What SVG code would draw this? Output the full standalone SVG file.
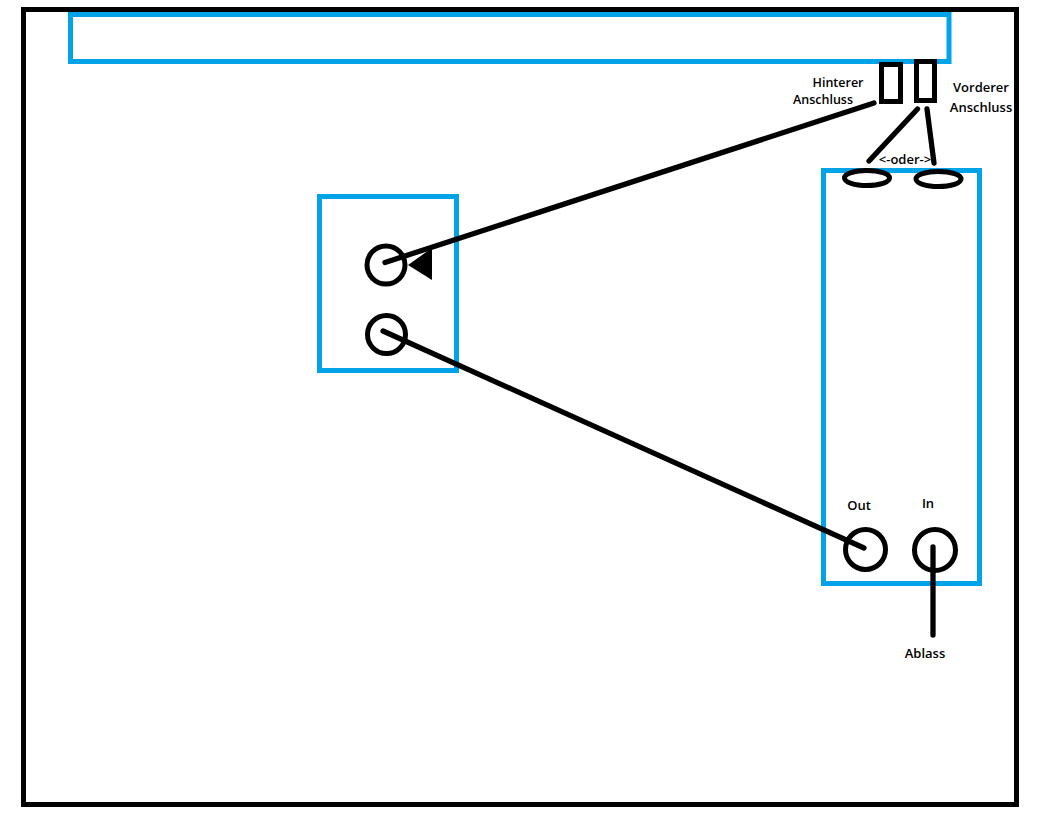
<svg xmlns="http://www.w3.org/2000/svg" width="1055" height="820" viewBox="0 0 1055 820">
<style>
.blue{fill:none;stroke:#00a2e8;stroke-width:5}
.blk{fill:none;stroke:#000;stroke-width:5}
.ln{fill:none;stroke:#000;stroke-width:5.300;stroke-linecap:round}
text{font-family:"Open Sans","Noto Sans","Liberation Sans",sans-serif;font-size:13px;font-weight:600;fill:#000}
.tight{font-size:12.500px}
</style>
<rect width="1055" height="820" fill="#fff"/>
<g id="frame"><rect class="blk" x="23.500" y="9.500" width="993" height="795"/></g>
<g id="top-bar"><rect class="blue" x="70.500" y="14.500" width="878.500" height="47"/></g>
<g id="rear-port"><rect class="blk" x="881.500" y="64.500" width="19" height="37"/><text class="tight" x="838" y="87" text-anchor="middle">Hinterer</text><text class="tight" x="823" y="104" text-anchor="middle">Anschluss</text></g>
<g id="front-port"><rect class="blk" x="916.500" y="61.500" width="18" height="39"/><text x="981" y="92" text-anchor="middle">Vorderer</text><text x="981" y="112" text-anchor="middle">Anschluss</text></g>
<g id="left-box"><rect class="blue" x="319.500" y="196.500" width="137" height="174"/><circle class="blk" cx="386" cy="265" r="19"/><circle class="blk" cx="386.500" cy="334.500" r="19"/><polygon points="408,265 432,248 432,280" fill="#000"/></g>
<g id="right-box"><rect class="blue" x="823.500" y="170.500" width="156" height="413"/><ellipse class="blk" cx="867" cy="178" rx="22.500" ry="7.500"/><ellipse class="blk" cx="938.500" cy="179" rx="22.500" ry="7.500"/><circle class="blk" cx="865.500" cy="549.500" r="20"/><circle class="blk" cx="935" cy="550" r="20.500"/><text x="905" y="164" text-anchor="middle">&lt;-oder-&gt;</text><text x="859" y="510" text-anchor="middle">Out</text><text x="928" y="508" text-anchor="middle">In</text></g>
<g id="drain-label"><text x="925" y="658" text-anchor="middle">Ablass</text></g>
<g id="connectors">
<path class="ln" d="M385 262.500L874 103"/>
<path class="ln" d="M917.500 109L869 161"/>
<path class="ln" d="M927 109L934 163"/>
<path class="ln" d="M383 331L864 548"/>
<path class="ln" d="M933 547L933 635"/>
</g>
</svg>
